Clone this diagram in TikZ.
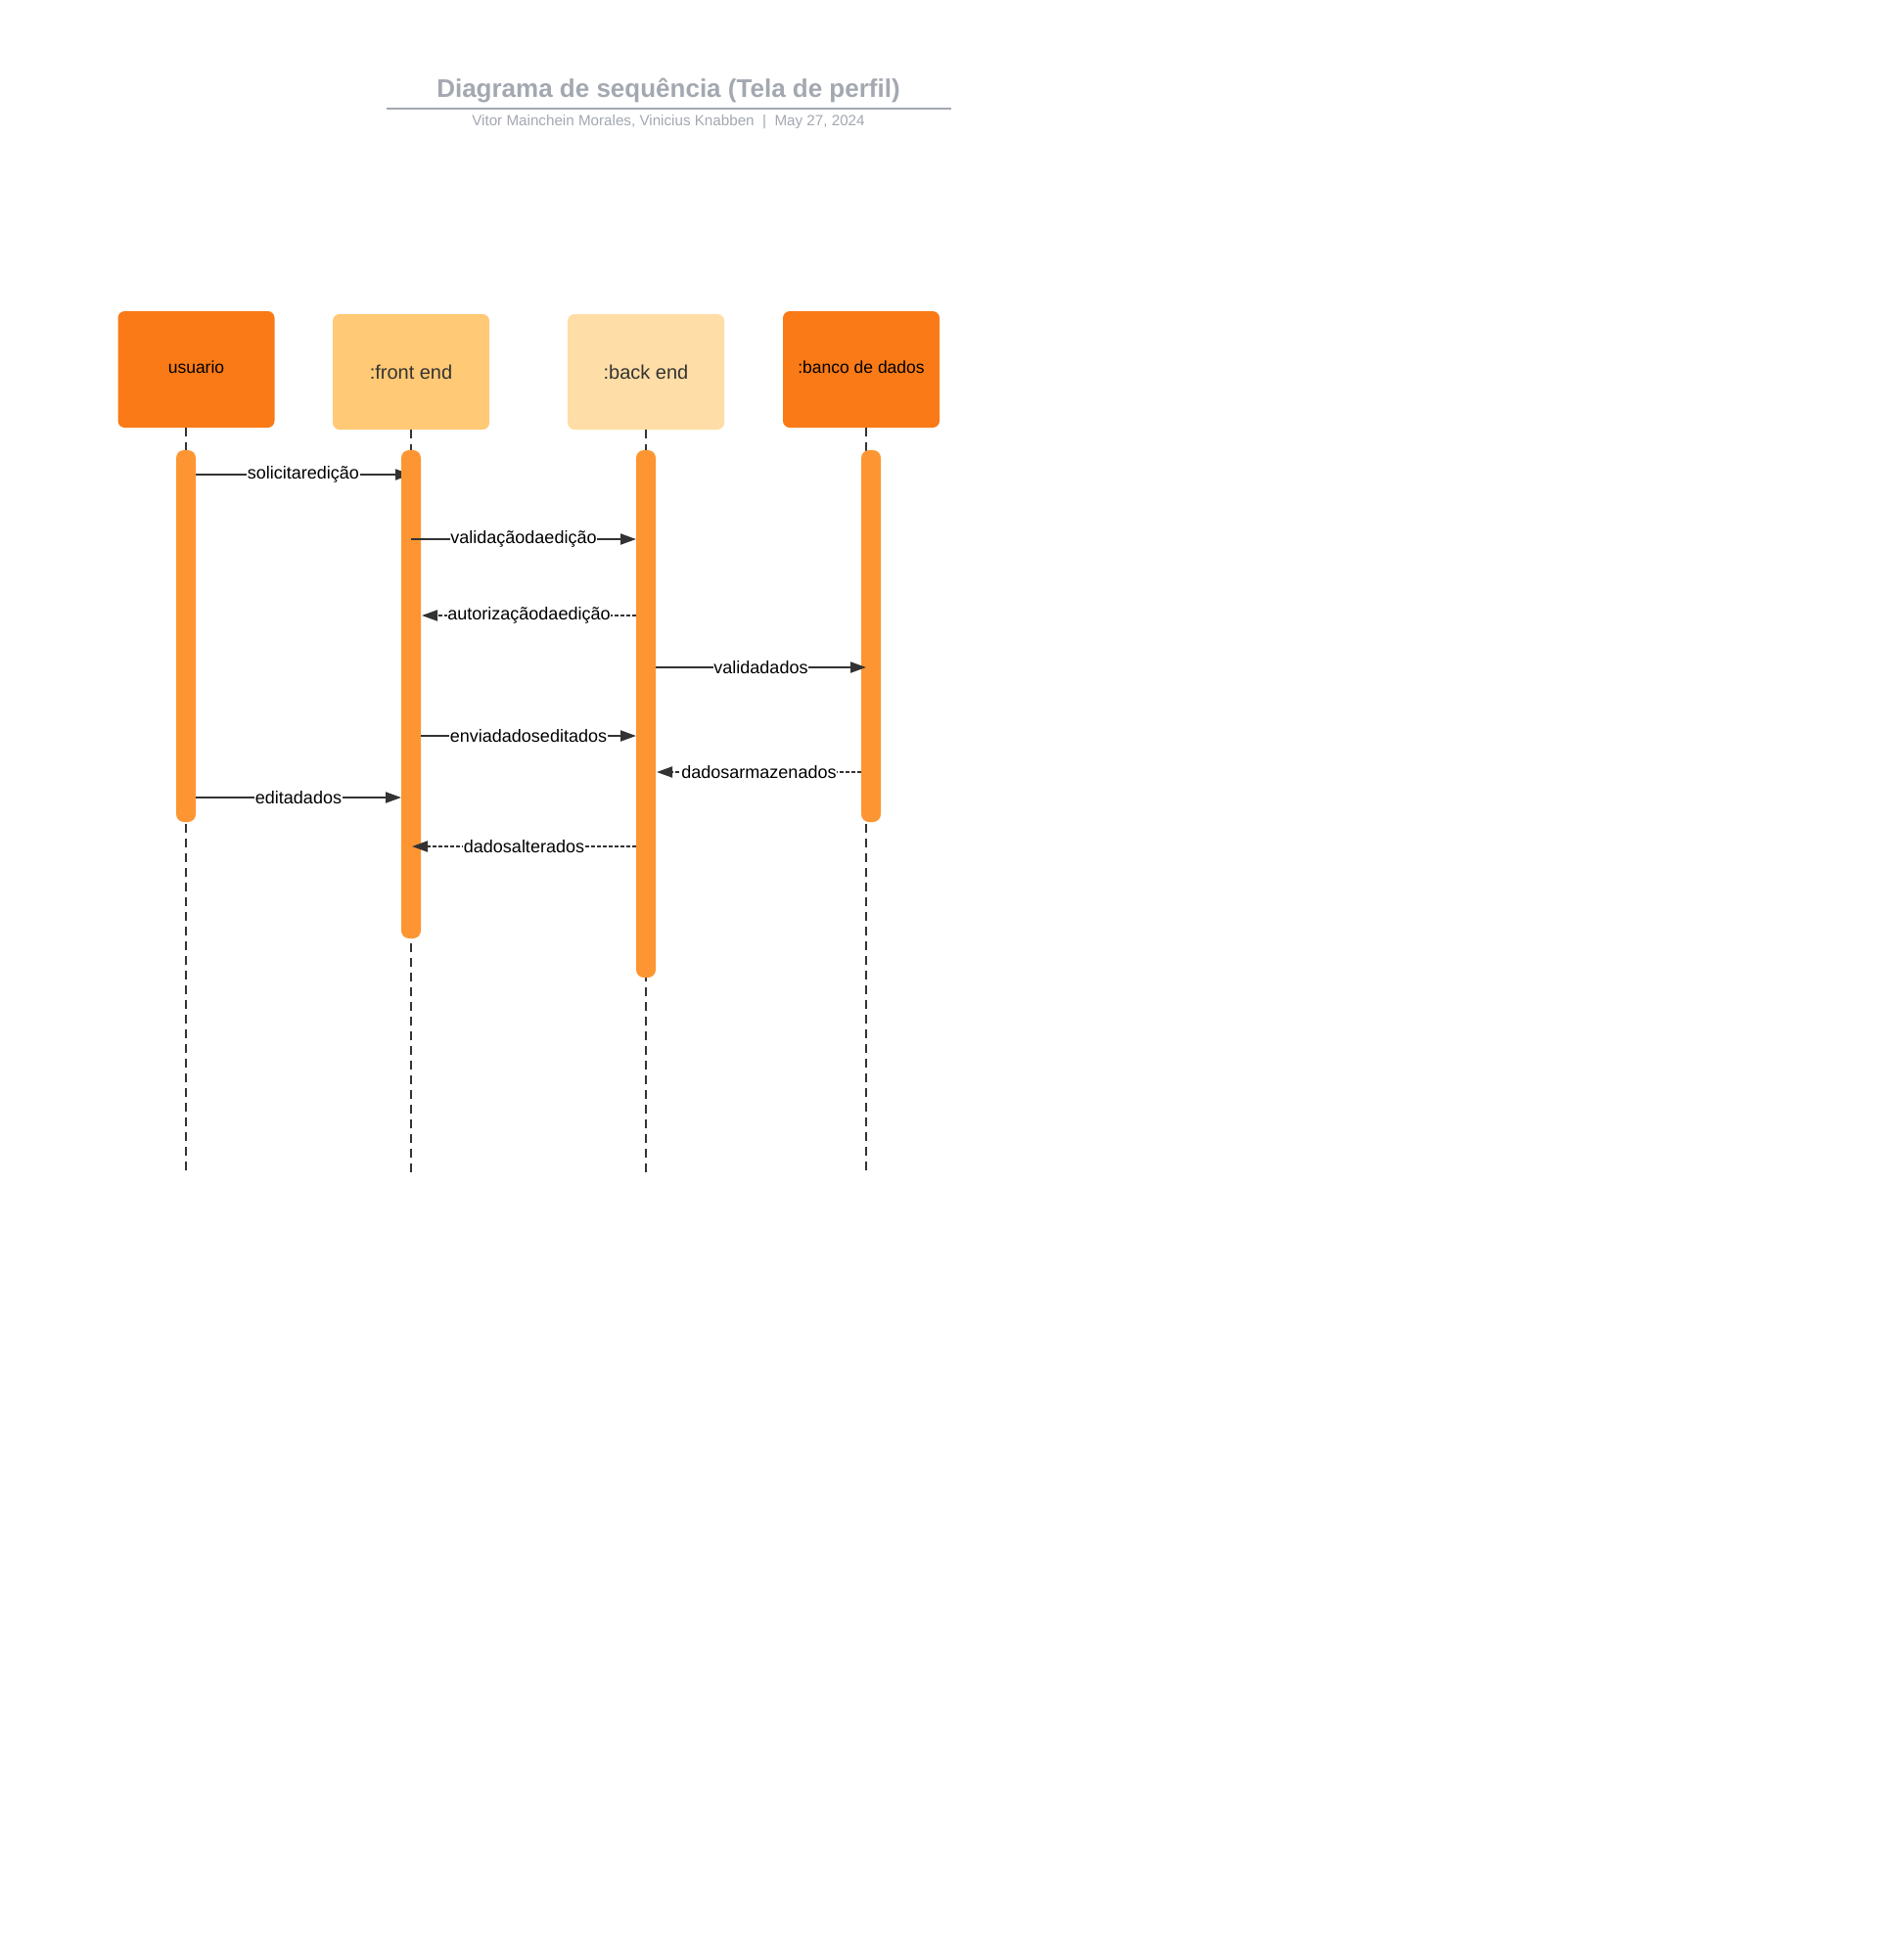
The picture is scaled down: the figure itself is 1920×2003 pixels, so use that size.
\documentclass[tikz,border=0pt]{standalone}
\usepackage{fontspec}
\setmainfont{Liberation Sans}
\usetikzlibrary{arrows.meta}
\definecolor{titlegray}{HTML}{A3A8B1}
\definecolor{darkorange}{HTML}{F97A16}
\definecolor{lightorange}{HTML}{FFC975}
\definecolor{paleorange}{HTML}{FFDDA6}
\definecolor{barorange}{HTML}{FD9632}
\definecolor{linegray}{HTML}{333333}
\begin{document}
\begin{tikzpicture}[x=1pt,y=-1pt,
  actor/.style={rectangle, rounded corners=7pt, draw=none, inner sep=0pt, minimum width=160pt, minimum height=119pt, align=center},
  bar/.style={rectangle, rounded corners=8pt, fill=barorange, minimum width=20pt, inner sep=0pt},
  lifeline/.style={draw=linegray, line width=1.2pt, dash pattern=on 9pt off 6pt},
  msg/.style={draw=linegray, line width=2pt, -{Triangle[length=16pt,width=11pt]}},
  reply/.style={msg, dash pattern=on 4pt off 2pt},
  lbl/.style={fill=white, inner sep=0.5pt, font=\fontsize{18}{20}\selectfont, text=black}
]
\fill[white] (0,0) rectangle (1920,2003);
\useasboundingbox (0,0) rectangle (1920,2003);

% title
\node[font=\fontsize{26}{30}\selectfont\bfseries, text=titlegray] (title) at (683,93) {Diagrama de sequência (Tela de perfil)};
\coordinate (rl) at (395,111);
\coordinate (rr) at (972,111);
\draw[titlegray, line width=1.5pt] (rl) -- (rr);
\node[font=\fontsize{15.2}{17}\selectfont, text=titlegray] (sub) at (683,125) {Vitor Mainchein Morales, Vinicius Knabben~~|~~May 27, 2024};

% actors
\node[actor, fill=darkorange, font=\fontsize{17.5}{20}\selectfont, text=black, text depth=5pt] (u) at (200.5,377.5) {usuario};
\node[actor, fill=lightorange, minimum height=118pt, font=\fontsize{20}{22}\selectfont, text=linegray] (f) at (420,380) {:front end};
\node[actor, fill=paleorange, minimum height=118pt, font=\fontsize{20}{22}\selectfont, text=linegray] (b) at (660,380) {:back end};
\node[actor, fill=darkorange, font=\fontsize{17.5}{20}\selectfont, text=black, text depth=5pt] (d) at (880,377.5) {:banco de dados};

% lifelines
\coordinate (uend) at (190,1198);
\coordinate (fend) at (420,1198);
\coordinate (bend) at (660,1198);
\coordinate (dend) at (885,1198);
\draw[lifeline] (uend |- u.south) -- (uend);
\draw[lifeline] (fend |- f.south) -- (fend);
\draw[lifeline] (bend |- b.south) -- (bend);
\draw[lifeline] (dend |- d.south) -- (dend);

% first message (its tip passes under the front-end bar)
\coordinate (m1s) at (200,485);
\coordinate (m1e) at (420,485);
\draw[msg] (m1s) -- node[lbl] (l1) {solicitaredição} (m1e);

% activation bars
\node[bar, minimum height=380pt] (ub) at (190,650) {};
\node[bar, minimum height=499pt] (fb) at (420,709.5) {};
\node[bar, minimum height=539pt] (bb) at (660,729.5) {};
\node[bar, minimum height=380pt] (db) at (890,650) {};

% messages
\coordinate (m2s) at (420,551);   \coordinate (m2e) at (650,551);
\coordinate (m3s) at (650,629);   \coordinate (m3e) at (431,629);
\coordinate (m4s) at (670,682);   \coordinate (m4e) at (885,682);
\coordinate (m5s) at (430,752);   \coordinate (m5e) at (650,752);
\coordinate (m6s) at (880,789);   \coordinate (m6e) at (671,789);
\coordinate (m7s) at (200,815);   \coordinate (m7e) at (410,815);
\coordinate (m8s) at (650,865);   \coordinate (m8e) at (421,865);

\draw[msg] (m2s) -- node[lbl] (l2) {validaçãodaedição} (m2e);
\draw[reply] (m3s) -- node[lbl] (l3) {autorizaçãodaedição} (m3e);
\draw[msg] (m4s) -- node[lbl] (l4) {validadados} (m4e);
\draw[msg] (m5s) -- node[lbl] (l5) {enviadadoseditados} (m5e);
\draw[reply] (m6s) -- node[lbl] (l6) {dadosarmazenados} (m6e);
\draw[msg] (m7s) -- node[lbl] (l7) {editadados} (m7e);
\draw[reply] (m8s) -- node[lbl] (l8) {dadosalterados} (m8e);
\end{tikzpicture}
\end{document}
